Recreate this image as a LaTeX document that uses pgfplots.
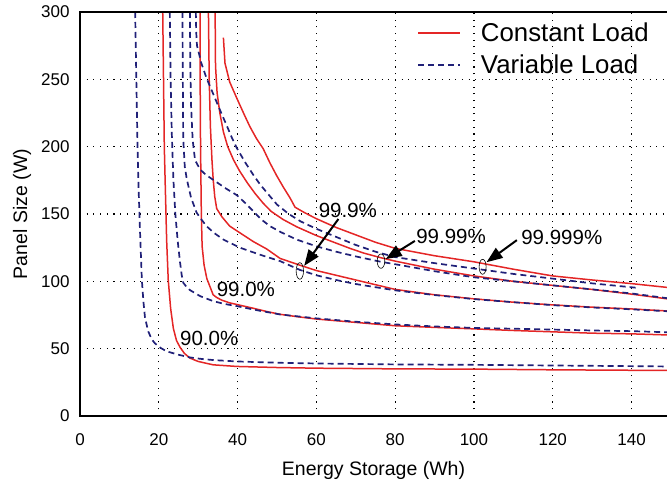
\documentclass[border=0pt]{standalone}
\usepackage{pgfplots}
\pgfplotsset{compat=1.18}
\usepackage{fontspec}
\setmainfont{Liberation Sans}
\usetikzlibrary{arrows.meta}
\definecolor{cload}{RGB}{228,38,38}
\definecolor{vload}{RGB}{32,32,120}
\newcommand{\tickfont}{\fontsize{17}{19}\selectfont}
\newcommand{\labfont}{\fontsize{19.5}{21}\selectfont}
\newcommand{\annfont}{\fontsize{20.5}{22}\selectfont}

\begin{document}
\begin{tikzpicture}
\begin{axis}[
    scale only axis,
    width=587pt, height=404pt,
    xmin=0, xmax=149, ymin=0, ymax=300,
    xtick={0,20,...,140}, ytick={0,50,...,300},
    axis line style={draw=none},
    major tick length=0pt,
    grid=major,
    grid style={black, line width=1.1pt, dash pattern=on 1.1pt off 5.6pt},
    tick label style={font=\tickfont},
    /pgf/number format/assume math mode=true,
    xticklabel style={anchor=center, yshift=-24pt},
    yticklabel style={anchor=east, xshift=-7pt},
    xlabel={Energy Storage (Wh)},
    ylabel={Panel Size (W)},
    every axis x label/.style={at={(rel axis cs:0.5,0)}, anchor=center, yshift=-54pt, font=\labfont},
    every axis y label/.style={at={(rel axis cs:0,0.5)}, anchor=center, xshift=-58pt, rotate=90, font=\labfont},
    clip mode=individual,
    legend style={at={(axis cs:84.8,295)}, anchor=north west, draw=none, fill=none,
        font=\fontsize{25.8}{28}\selectfont, row sep=8pt,
        /tikz/every odd column/.append style={column sep=18pt}},
    legend cell align=left,
    legend image code/.code={\draw[#1] (0pt,0pt) -- (42pt,0pt);},
    every axis plot/.append style={line join=round},
]
\addlegendimage{cload, line width=1.5pt}
\addlegendentry{Constant Load}
\addlegendimage{vload, line width=1.7pt, dash pattern=on 6pt off 4pt}
\addlegendentry{Variable Load}
% constant load (solid red)
\addplot[cload, line width=1.5pt, forget plot] coordinates {
 (21.0,300) (21.2,250) (21.4,200) (21.6,176) (22.0,130) (22.4,101) (23.0,80) (23.7,65)
 (24.5,56) (25.4,51) (26.5,46.5) (27.9,43) (30,40.5) (33.8,38) (39.8,36.8) (50,36)
 (60,35.5) (80,35) (100,34.8) (120,34.3) (149,33.8)};
\addplot[cload, line width=1.5pt, forget plot] coordinates {
 (30.5,300) (30.5,250) (30.6,200) (30.8,150) (31.0,126) (31.5,112) (32.2,102) (33.0,96)
 (33.8,90) (34.7,88) (36,86) (38,84) (41,82) (44,80) (47.5,77.5) (50.8,75.5) (55,73.8)
 (60,72) (70,69.5) (80,67) (90,65.8) (100,64.7) (110,63.5) (120,62.5) (130,61.5) (140,61) (149,60.2)};
\addplot[cload, line width=1.5pt, forget plot] coordinates {
 (32.6,300) (32.8,250) (33.1,215) (33.5,190) (33.8,176) (34.2,163) (34.7,154) (36,148)
 (38,141) (40.6,136) (44,129.5) (47.4,124) (50.8,117) (55.8,112) (60,108) (64.3,105)
 (70,101) (80,94) (90,90) (100,87) (110,84.5) (120,82.5) (130,80.8) (140,79.5) (149,78)};
\addplot[cload, line width=1.5pt, forget plot] coordinates {
 (34.3,300) (34.4,260) (34.8,240) (35.5,225) (36.4,211) (37.5,200) (39,190) (40.5,182)
 (42.5,173) (44.5,165) (46.5,158) (48.5,152) (51.5,146) (55,140.5) (60,134) (64,129.5)
 (68.5,124.5) (72,121) (76.4,117.5) (80,115) (90,109) (100,104) (110,100) (120,97)
 (130,94) (140,90.5) (149,87)};
\addplot[cload, line width=1.5pt, forget plot] coordinates {
 (36.4,281) (36.8,262) (38,248) (39.8,236) (41.5,225) (43.1,215) (44.8,206) (46.5,198.5)
 (48.2,188) (49.9,178.6) (51.6,170) (53.3,162) (54.6,155) (57,151) (60,146.5) (65,140)
 (70,134.5) (75,129) (80,124.5) (90,119) (100,114.5) (110,109) (120,104) (130,101)
 (140,98.3) (149,95.5)};
% variable load (dashed blue)
\addplot[vload, line width=1.7pt, dash pattern=on 6pt off 4pt, forget plot] coordinates {
 (14.0,300) (14.3,250) (14.6,200) (14.8,176) (15.2,140) (15.7,101) (16.1,85) (16.5,73)
 (17.3,63) (18.2,57) (19.0,54) (20.5,50.5) (22,48) (25,45.5) (27.9,43.5) (31,42.3)
 (34,41.5) (39.8,40.5) (50.8,39.5) (60,39) (80,38.3) (100,38) (120,37.5) (149,36.8)};
\addplot[vload, line width=1.7pt, dash pattern=on 6pt off 4pt, forget plot] coordinates {
 (22.8,300) (23.0,250) (23.3,210) (23.7,176) (24.2,150) (24.8,130) (25.4,114) (25.8,105)
 (26.2,99) (27,96) (27.9,93.5) (30.5,89) (33.8,85.3) (36.5,83.3) (39.8,81.6) (45,78.5)
 (50.8,75.4) (60,72.5) (70,70) (80,68) (90,66.5) (100,65.4) (110,64.8) (120,64.2)
 (130,63.5) (140,63) (149,62.2)};
\addplot[vload, line width=1.7pt, dash pattern=on 6pt off 4pt, forget plot] coordinates {
 (26.0,300) (26.1,250) (26.2,206) (26.6,185) (27.1,176) (28.2,162) (29.6,151) (30.8,146)
 (32.1,141) (34,136) (36.4,131) (38.5,128) (40.6,125) (43.5,122) (46.5,119) (50.8,115)
 (55.8,108.5) (60,104.5) (65,101) (70,98) (80,93.3) (90,89.8) (100,86.8) (110,84.5)
 (120,82.3) (130,80.6) (140,79.2) (149,77.8)};
\addplot[vload, line width=1.7pt, dash pattern=on 6pt off 4pt, forget plot] coordinates {
 (27.9,300) (28.0,260) (28.2,230) (28.6,205) (29.2,190) (30.5,183) (32,179) (34.5,174)
 (37,169) (39.8,164) (42,158) (44,152) (46,146) (48.2,141) (51,136.5) (55,131) (60,126)
 (65,122) (70,118.5) (76.4,114.5) (80,112.7) (90,107.5) (100,103) (110,100) (120,97)
 (130,94) (140,91) (149,87.5)};
\addplot[vload, line width=1.7pt, dash pattern=on 6pt off 4pt, forget plot] coordinates {
 (29.4,300) (29.5,285) (29.7,275) (30.8,262) (32.1,251) (33.4,242) (34.7,233) (36,224)
 (37.2,216) (38.5,207) (39.8,199) (42,188) (44,179) (45.7,172) (47.4,166) (50,157)
 (53,150) (56,144.5) (60,139) (65,133) (70,127) (75,122) (80,118) (90,113.5)
 (100,109.5) (110,105.5) (120,102) (130,98.5) (142,95)};
% axis frame (left, bottom, top)
\draw[line width=2pt] (rel axis cs:1,1) -- (rel axis cs:0,1) -- (rel axis cs:0,0) -- (rel axis cs:1,0);
% annotations
\node[font=\annfont] at (axis cs:32.8,57.5) {90.0\%};
\node[font=\annfont] at (axis cs:42.1,94) {99.0\%};
\node[font=\annfont] at (axis cs:68,152.5) {99.9\%};
\node[font=\annfont] at (axis cs:94.2,133.2) {99.99\%};
\node[font=\annfont] at (axis cs:122.3,132.6) {99.999\%};
\draw[line width=0.6pt] (axis cs:55.8,107.7) ellipse [x radius=3.7pt, y radius=8.3pt];
\draw[line width=0.6pt] (axis cs:76.4,115) ellipse [x radius=3.8pt, y radius=7.2pt];
\draw[line width=0.6pt] (axis cs:102.2,110.8) ellipse [x radius=3.5pt, y radius=7.5pt];
\draw[line width=2pt, -{Triangle[length=16pt,width=12pt]}] (axis cs:65.6,146.3) -- (axis cs:56.9,111.5);
\draw[line width=2pt, -{Triangle[length=16pt,width=12pt]}] (axis cs:85,130) -- (axis cs:77.6,116.5);
\draw[line width=2pt, -{Triangle[length=16pt,width=12pt]}] (axis cs:110.9,130.6) -- (axis cs:103.2,114.2);
\coordinate (ll) at (rel axis cs:0,0);
\coordinate (ur) at (rel axis cs:1,1);
\end{axis}
\pgfresetboundingbox
\path ([shift={(-80pt,-68pt)}]ll) rectangle ([shift={(0pt,12pt)}]ur);
\end{tikzpicture}
\end{document}
